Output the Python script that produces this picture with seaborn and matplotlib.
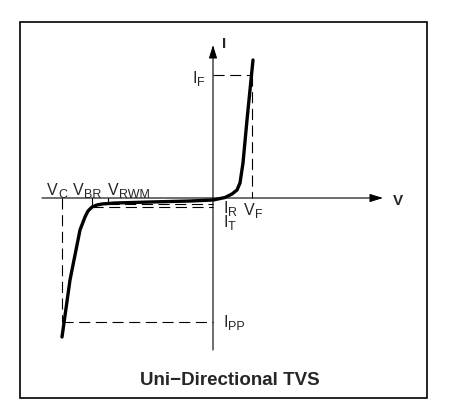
import matplotlib
matplotlib.use("Agg")
import matplotlib.pyplot as plt
from matplotlib.patches import Rectangle
import seaborn as sns

# I-V curve of a uni-directional TVS (arbitrary units)
v_curve = [-15.1, -14.3, -13.5, -13.3, -12.8, -12.5, -12.1, -11.6, -11.1,
           -9.8, -6.3, -2.3, 0.0, 1.2, 1.9, 2.4, 2.7, 3.0, 3.4, 4.0]
i_curve = [-13.9, -8.2, -4.2, -3.2, -1.9, -1.3, -0.9, -0.7, -0.6,
           -0.5, -0.4, -0.3, -0.2, 0.05, 0.4, 0.8, 1.5, 3.5, 7.8, 13.8]

# characteristic points
V_C = -15.1
V_BR = -12.1
V_RWM = -10.5
V_F = 3.9
I_F = 12.3
I_PP = -12.4
I_R = -0.55
I_T = -0.85

sns.set_style("white")
plt.rcParams["font.family"] = ["Liberation Sans", "DejaVu Sans"]

fig = plt.figure(figsize=(4.55, 4.19), dpi=100)
ax = fig.add_axes([0, 0, 1, 1])
ax.set_xlim(-21.3, 24.2)
ax.set_ylim(-22.1, 19.8)
ax.axis("off")

# outer frame
fig.patches.append(Rectangle((0.044, 0.050), 0.8945, 0.897,
                             transform=fig.transFigure, fill=False,
                             ec="black", lw=1.2))

# axes with arrows
arrow = dict(arrowstyle="-|>,head_length=0.8,head_width=0.25",
             color="black", lw=0.8, mutation_scale=10,
             shrinkA=0, shrinkB=0)
ax.annotate("", xy=(17.0, 0), xytext=(-17.1, 0), arrowprops=arrow)
ax.annotate("", xy=(0, 15.3), xytext=(0, -15.2), arrowprops=arrow)

# dashed guide lines
dash = dict(color="black", lw=0.8, ls=(0, (10, 5)))
ax.plot([0, V_F], [I_F, I_F], **dash)
ax.plot([V_F, V_F], [I_F, 0], **dash)
ax.plot([V_C, V_C], [0, I_PP], **dash)
ax.plot([V_C, 0], [I_PP, I_PP], **dash)
ax.plot([V_BR, V_BR], [0, I_T], color="black", lw=0.8)
ax.plot([V_BR, 0], [I_T, I_T], **dash)
ax.plot([V_RWM, V_RWM], [0, I_R], color="black", lw=0.8)
ax.plot([V_RWM, 0], [I_R, I_R], **dash)

# the curve
sns.lineplot(x=v_curve, y=i_curve, sort=False, color="black",
             lw=2.4, ax=ax, estimator=None)

FS = 11.5
SUB = 9.0
WIDTH = {"V": 0.667, "I": 0.278}


def label(x, y, main, sub, right=False):
    # main letter plus a lowered, smaller subscript
    w = WIDTH[main] * FS + 0.3
    if right:
        x_off = -(w + 0.64 * SUB * len(sub))
    else:
        x_off = 0
    ax.annotate(main, xy=(x, y), xytext=(x_off, 0), textcoords="offset points",
                fontsize=FS, va="baseline", ha="left")
    ax.annotate(sub, xy=(x, y), xytext=(x_off + w, -1.8),
                textcoords="offset points", fontsize=SUB,
                va="baseline", ha="left")


ax.text(0.9, 15.0, "I", fontsize=11, fontweight="bold", va="baseline")
ax.text(18.0, -0.7, "V", fontsize=11, fontweight="bold", va="baseline")
label(-0.8, 11.5, "I", "F", right=True)
label(-16.6, 0.3, "V", "C")
label(-14.0, 0.3, "V", "BR")
label(-10.5, 0.3, "V", "RWM")
label(1.0, -1.5, "I", "R")
label(1.0, -2.9, "I", "T")
label(3.1, -1.7, "V", "F")
label(1.0, -12.9, "I", "PP")

ax.text(1.7, -18.7, "Uni\u2212Directional TVS", fontsize=13.5,
        fontweight="bold", ha="center", va="baseline")

fig.savefig("out.png", dpi=100)
